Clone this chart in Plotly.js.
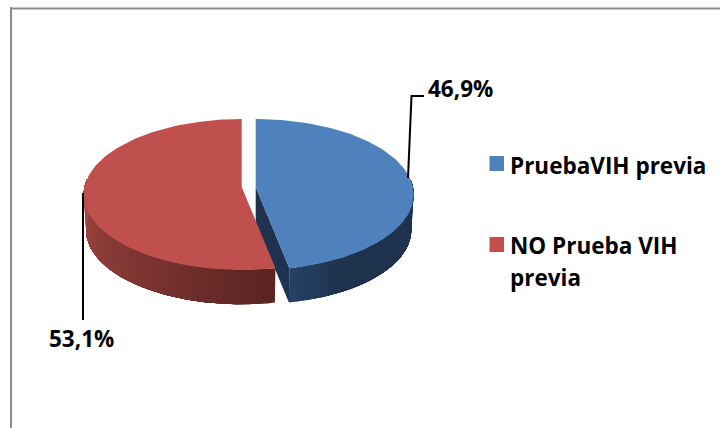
<!DOCTYPE html>
<html><head><meta charset="utf-8">
<script src="https://cdn.plot.ly/plotly-3.0.1.min.js"></script>
<style>html,body{margin:0;padding:0;background:#fff}#c{width:720px;height:428px}</style>
</head><body><div id="c"></div>
<script>
const categories = ["PruebaVIH previa", "NO Prueba VIH previa"];
const legendLines = [["PruebaVIH previa"], ["NO Prueba VIH", "previa"]];
const values = [46.9, 53.1];
const topColors = ["#4F81BD", "#C0504D"];

// Perspective view of the tilted, exploded pie, in page pixels
const view = {A:157.2, B:74.75, k:0.0993, cy:187, depth:35.5, inset:0.985};
const sliceCx = [255.7, 241.7];
const wallStops = [[[37,64,100],[31,50,78]], [[90,36,34],[170,74,70]]];

const rad = d => d*Math.PI/180;
function P(thetaDeg, r, cx, lower){
  const u = r*Math.sin(rad(thetaDeg)), v = r*Math.cos(rad(thetaDeg));
  const w = 1 + view.k*v, s = lower ? view.inset : 1;
  return [cx + view.A*s*u/w, view.cy + (lower?view.depth:0) - view.B*s*v/w];
}
const cut = values[0]/100*360;
const traces = [];
function poly(pts, color, name){
  traces.push({type:'scatter', mode:'lines', x:pts.map(p=>p[0]), y:pts.map(p=>p[1]), name:name||'',
    fill:'toself', fillcolor:color, line:{color:color, width:0}, hoverinfo:'skip', showlegend:false});
}
const mix=(a,b,t)=>`rgb(${a.map((c,i)=>Math.round(c+(b[i]-c)*t)).join(',')})`;
// painter's strips: each strip runs to the far end of the wall and the next one paints over it, so no seams open
function wall(i, from, to, n, stops, ramp){
  for(let j=0;j<n;j++){
    const a=from+(to-from)*j/n, top=[], low=[];
    for(let q=0;q<=n-j;q++){
      const b=a+(to-from)*q/n;
      top.push(P(b,1,sliceCx[i],false)); low.unshift(P(b,1,sliceCx[i],true));
    }
    poly(top.concat(low), mix(stops[0],stops[1],Math.min(1,(j/n)*ramp)));
  }
}
// blue: outer wall then cut face; red: outer wall
wall(0, cut, 85, 30, wallStops[0], 5);
poly([P(0,0,sliceCx[0],false),P(cut,1,sliceCx[0],false),P(cut,1,sliceCx[0],true),P(0,0,sliceCx[0],true)], 'rgb(31,51,80)');
wall(1, cut, 276, 50, wallStops[1], 1);
function face(i, from, to){
  const pts=[P(0,0,sliceCx[i],false)];
  for(let j=0;j<=120;j++) pts.push(P(from+(to-from)*j/120,1,sliceCx[i],false));
  pts.push(P(0,0,sliceCx[i],false));
  poly(pts, topColors[i], categories[i]);
}
face(0,0,cut); face(1,cut,360);

const pct = v => v.toFixed(1).replace('.',',')+'%';
const font = {family:'"Open Sans", sans-serif', size:22.5, color:'#000', weight:700};
const legendRows = [[165],[245,277]];
const squareY = [163.5,244.5];
const annotations = [
  {x:426,y:88,xanchor:'left',text:pct(values[0]),showarrow:false,font:font},
  {x:47,y:338,xanchor:'left',text:pct(values[1]),showarrow:false,font:font}
];
legendLines.forEach((lines,i)=>lines.forEach((t,j)=>annotations.push(
  {x:508,y:legendRows[i][j],xanchor:'left',text:t,showarrow:false,font:font})));
const squares = squareY.map((y,i)=>({type:'rect',x0:489.5,x1:504,y0:y-7.5,y1:y+7.5,fillcolor:topColors[i],line:{width:0}}));

const layout = {
  width:720, height:428, margin:{l:0,r:0,t:0,b:0}, paper_bgcolor:'#fff', plot_bgcolor:'#fff',
  showlegend:false,
  xaxis:{range:[0,720],visible:false,fixedrange:true},
  yaxis:{range:[428,0],visible:false,fixedrange:true},
  shapes:[
    {type:'line',x0:11,x1:11,y0:7,y1:428,line:{color:'#8C8C8C',width:2}},
    {type:'line',x0:10,x1:720,y0:8.5,y1:8.5,line:{color:'#8C8C8C',width:2}},
    {type:'path',path:'M408,178 L411.5,96 L424,96',line:{color:'#000',width:2}},
    {type:'line',x0:83,x1:83,y0:193,y1:320,line:{color:'#000',width:2}}
  ].concat(squares),
  annotations:annotations
};
Plotly.newPlot('c',traces,layout,{displayModeBar:false,staticPlot:true});
</script></body></html>
